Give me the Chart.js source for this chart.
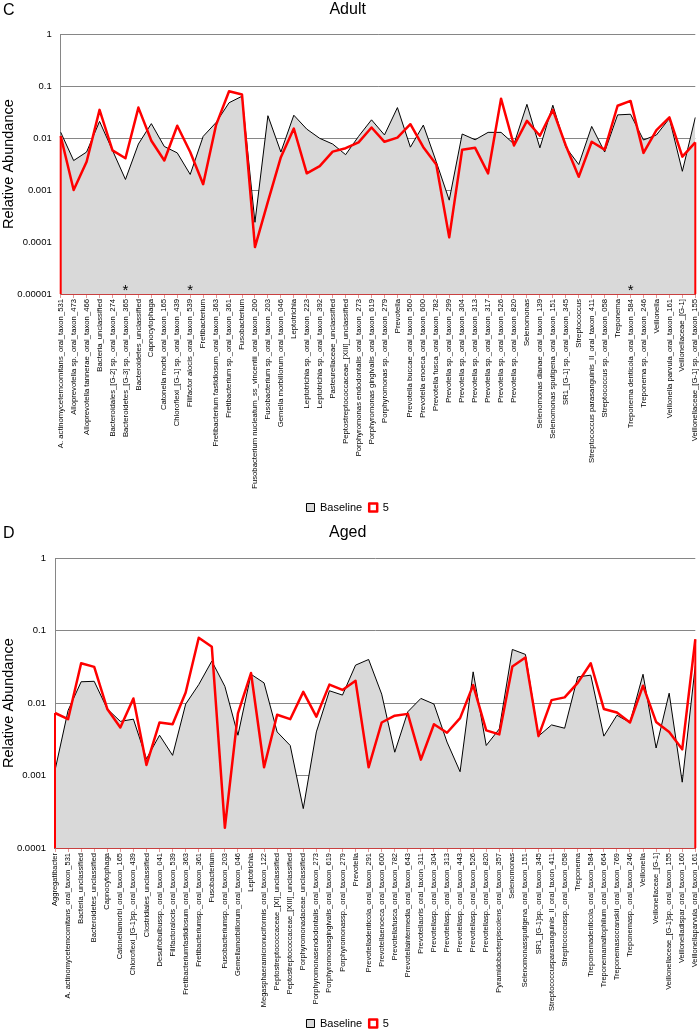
<!DOCTYPE html>
<html>
<head>
<meta charset="utf-8">
<script src="https://cdn.jsdelivr.net/npm/chart.js@4.4.0/dist/chart.umd.min.js"></script>
<style>
  html, body { margin: 0; padding: 0; background: #fff; }
  .panel { position: relative; width: 700px; overflow: hidden; }
  .panel canvas { display: block; }
  .tag { position: absolute; left: 3px; font: 16px 'Liberation Sans', Arial, sans-serif; color: #000; }
</style>
</head>
<body>
<div class="panel" style="height:518px">
  <div class="tag" style="top:1px">C</div>
  <canvas id="adultChart" width="700" height="518"></canvas>
</div>
<div class="panel" style="height:516px">
  <div class="tag" style="top:6px">D</div>
  <canvas id="agedChart" width="700" height="516"></canvas>
</div>
<script>
// Panel C - Adult
const adultTaxa = [
  'A. actinomycetemcomitans_oral_taxon_531', 'Alloprevotella sp._oral_taxon_473', 'Alloprevotella tannerae_oral_taxon_466',
  'Bacteria_unclassified', 'Bacteroidales_[G-2] sp._oral_taxon_274', 'Bacteroidetes_[G-3] sp._oral_taxon_365',
  'Bacteroidetes_unclassified', 'Capnocytophaga', 'Catonella morbi_oral_taxon_165', 'Chloroflexi_[G-1] sp._oral_taxon_439',
  'Filifactor alocis_oral_taxon_539', 'Fretibacterium', 'Fretibacterium fastidiosum_oral_taxon_363',
  'Fretibacterium sp._oral_taxon_361', 'Fusobacterium', 'Fusobacterium nucleatum_ss_vincentii_oral_taxon_200',
  'Fusobacterium sp._oral_taxon_203', 'Gemella morbillorum_oral_taxon_046', 'Leptotrichia',
  'Leptotrichia sp._oral_taxon_223', 'Leptotrichia sp._oral_taxon_392', 'Pasteurellaceae_unclassified',
  'Peptostreptococcaceae_[XIII]_unclassified', 'Porphyromonas endodontalis_oral_taxon_273',
  'Porphyromonas gingivalis_oral_taxon_619', 'Porphyromonas sp._oral_taxon_279', 'Prevotella',
  'Prevotella buccae_oral_taxon_560', 'Prevotella enoeca_oral_taxon_600', 'Prevotella fusca_oral_taxon_782',
  'Prevotella sp._oral_taxon_299', 'Prevotella sp._oral_taxon_304', 'Prevotella sp._oral_taxon_313',
  'Prevotella sp._oral_taxon_317', 'Prevotella sp._oral_taxon_526', 'Prevotella sp._oral_taxon_820', 'Selenomonas',
  'Selenomonas dianae_oral_taxon_139', 'Selenomonas sputigena_oral_taxon_151', 'SR1_[G-1] sp._oral_taxon_345',
  'Streptococcus', 'Streptococcus parasanguinis_II_oral_taxon_411', 'Streptococcus sp._oral_taxon_058', 'Treponema',
  'Treponema denticola_oral_taxon_584', 'Treponema sp._oral_taxon_246', 'Veillonella',
  'Veillonella parvula_oral_taxon_161', 'Veillonellaceae_[G-1]', 'Veillonellaceae_[G-1] sp._oral_taxon_155'
];
const adultBaseline = [0.013, 0.0037, 0.0054, 0.021, 0.0058, 0.0016, 0.0077, 0.019, 0.0069, 0.0052,
  0.002, 0.0108, 0.02, 0.048, 0.064, 0.00024, 0.027, 0.0054, 0.0276, 0.0149,
  0.0099, 0.0077, 0.0048, 0.0108, 0.0225, 0.0115, 0.0387, 0.0067, 0.0178, 0.0035,
  0.00064, 0.012, 0.0093, 0.0129, 0.0129, 0.0077, 0.0447, 0.0065, 0.043, 0.0067,
  0.0031, 0.0168, 0.0054, 0.028, 0.0288, 0.0092, 0.0115, 0.0239, 0.0023, 0.025];
const adultWeek5 = [0.011, 0.001, 0.0035, 0.035, 0.0058, 0.0041, 0.0387, 0.0089, 0.0037, 0.0173,
  0.0054, 0.0013, 0.018, 0.08, 0.069, 0.00008, 0.0006, 0.0043, 0.0153, 0.0021,
  0.0029, 0.0055, 0.0064, 0.0083, 0.016, 0.0085, 0.0102, 0.0185, 0.0067, 0.0031,
  0.000123, 0.006, 0.0065, 0.0021, 0.0575, 0.0072, 0.0215, 0.0111, 0.035, 0.0072,
  0.0018, 0.0085, 0.006, 0.042, 0.052, 0.0052, 0.0143, 0.025, 0.0044, 0.0083];
const adultStars = [5, 10, 44]; // category indexes marked with *
const adultTicks = [1, 0.1, 0.01, 0.001, 0.0001, 0.00001];
const adultTickLabels = ['1', '0.1', '0.01', '0.001', '0.0001', '0.00001'];

// Panel D - Aged
const agedTaxa = [
  'Aggregatibacter', 'A. actinomycetemcomitans_oral_taxon_531', 'Bacteria_unclassified', 'Bacteroidetes_unclassified',
  'Capnocytophaga', 'Catonellamorbi_oral_taxon_165', 'Chloroflexi_[G-1]sp._oral_taxon_439', 'Clostridiales_unclassified',
  'Desulfobulbussp._oral_taxon_041', 'Filifactoralocis_oral_taxon_539', 'Fretibacteriumfastidiosum_oral_taxon_363',
  'Fretibacteriumsp._oral_taxon_361', 'Fusobacterium', 'Fusobacteriumsp._oral_taxon_203',
  'Gemellamorbillorum_oral_taxon_046', 'Leptotrichia', 'Megasphaeramicronuciformis_oral_taxon_122',
  'Peptostreptococcaceae_[XI]_unclassified', 'Peptostreptococcaceae_[XIII]_unclassified',
  'Porphyromonadaceae_unclassified', 'Porphyromonasendodontalis_oral_taxon_273', 'Porphyromonasgingivalis_oral_taxon_619',
  'Porphyromonassp._oral_taxon_279', 'Prevotella', 'Prevotelladenticola_oral_taxon_291', 'Prevotellaenoeca_oral_taxon_600',
  'Prevotellafusca_oral_taxon_782', 'Prevotellaintermedia_oral_taxon_643', 'Prevotellaoris_oral_taxon_311',
  'Prevotellasp._oral_taxon_304', 'Prevotellasp._oral_taxon_313', 'Prevotellasp._oral_taxon_443',
  'Prevotellasp._oral_taxon_526', 'Prevotellasp._oral_taxon_820', 'Pyramidobacterpiscolens_oral_taxon_357',
  'Selenomonas', 'Selenomonassputigena_oral_taxon_151', 'SR1_[G-1]sp._oral_taxon_345',
  'Streptococcusparasanguinis_II_oral_taxon_411', 'Streptococcussp._oral_taxon_058', 'Treponema',
  'Treponemadenticola_oral_taxon_584', 'Treponemamaltophilum_oral_taxon_664', 'Treponemasocranskii_oral_taxon_769',
  'Treponemasp._oral_taxon_246', 'Veillonella', 'Veillonellaceae_[G-1]', 'Veillonellaceae_[G-1]sp._oral_taxon_155',
  'Veillonelladispar_oral_taxon_160', 'Veillonellaparvula_oral_taxon_161'
];
const agedBaseline = [0.00118, 0.0079, 0.0197, 0.02, 0.0083, 0.0056, 0.006, 0.0017, 0.0036, 0.0019,
  0.0097, 0.018, 0.038, 0.017, 0.0036, 0.025, 0.019, 0.004, 0.0026, 0.00035,
  0.004, 0.0148, 0.0129, 0.0334, 0.04, 0.0133, 0.0021, 0.0076, 0.0116, 0.0097,
  0.0029, 0.00113, 0.027, 0.0026, 0.0044, 0.055, 0.047, 0.0035, 0.005, 0.0045,
  0.023, 0.0243, 0.0035, 0.0068, 0.0054, 0.025, 0.0024, 0.0137, 0.00081, 0.033];
const agedWeek5 = [0.0073, 0.006, 0.0355, 0.0316, 0.0083, 0.0046, 0.0116, 0.0014, 0.0054, 0.0051,
  0.014, 0.08, 0.06, 0.00019, 0.0072, 0.026, 0.0013, 0.0069, 0.006, 0.0143,
  0.0065, 0.018, 0.0152, 0.0203, 0.0013, 0.0054, 0.0067, 0.0071, 0.00166, 0.0051,
  0.0039, 0.0062, 0.0177, 0.0042, 0.0037, 0.032, 0.0426, 0.0035, 0.011, 0.012,
  0.019, 0.0355, 0.0083, 0.0074, 0.0054, 0.0174, 0.0055, 0.004, 0.0023, 0.076];
const agedStars = [];
const agedTicks = [1, 0.1, 0.01, 0.001, 0.0001];
const agedTickLabels = ['1', '0.1', '0.01', '0.001', '0.0001'];

Chart.defaults.font.family = "'Liberation Sans', Arial, sans-serif";
Chart.defaults.color = '#000';

// red area border goes down to the axis at both ends (Excel style), plus the * markers
const edgesPlugin = {
  id: 'edges',
  afterDatasetsDraw(chart, args, opts) {
    const { ctx, scales: { x, y } } = chart;
    const vals = chart.data.datasets[1].data;
    const last = vals.length - 1;
    ctx.save();
    ctx.strokeStyle = '#ff0000';
    ctx.lineWidth = 2;
    [0, last].forEach(i => {
      const px = x.getPixelForValue(i);
      ctx.beginPath();
      ctx.moveTo(px, y.getPixelForValue(vals[i]));
      ctx.lineTo(px, y.bottom);
      ctx.stroke();
    });
    ctx.fillStyle = '#000';
    ctx.font = "15px 'Liberation Sans', Arial, sans-serif";
    ctx.textAlign = 'center';
    ctx.textBaseline = 'alphabetic';
    (opts.stars || []).forEach(i => ctx.fillText('*', x.getPixelForValue(i), y.bottom + 1));
    ctx.restore();
  }
};

function makePanel(id, title, taxa, base, week5, ticks, tickLabels, stars, lay) {
  return new Chart(document.getElementById(id), {
    type: 'line',
    data: {
      labels: taxa,
      datasets: [{
        label: 'Baseline',
        data: base,
        borderColor: '#000',
        borderWidth: 1,
        backgroundColor: '#d9d9d9',
        fill: 'start',
        pointRadius: 0,
        tension: 0,
        order: 2
      }, {
        label: '5',
        data: week5,
        borderColor: '#ff0000',
        borderWidth: 2.5,
        backgroundColor: '#fff',
        fill: false,
        pointRadius: 0,
        tension: 0,
        borderJoinStyle: 'round',
        order: 1
      }]
    },
    options: {
      responsive: false,
      animation: false,
      layout: { padding: { right: 4.7, bottom: -5 } },
      plugins: {
        title: {
          display: true, text: title, color: '#000',
          font: { size: 16, weight: 'normal' },
          padding: { top: lay.titleTop, bottom: lay.titleBottom }
        },
        legend: {
          position: 'bottom',
          labels: {
            boxWidth: 8, boxHeight: 8, padding: 7, color: '#000',
            font: { size: 11 },
            sort: (a, b) => a.datasetIndex - b.datasetIndex
          }
        },
        tooltip: { enabled: false },
        edges: { stars: stars }
      },
      scales: {
        x: {
          offset: false,
          grid: { drawOnChartArea: false, drawTicks: true, tickLength: 4, color: '#e09a9a' },
          border: { color: '#c84040', width: 2 },
          ticks: { autoSkip: false, minRotation: 90, maxRotation: 90, padding: 1, font: { size: lay.labelSize }, color: '#000' },
          afterFit: s => { s.height = lay.axisHeight; s.paddingLeft = 0; s.paddingRight = 0; }
        },
        y: {
          type: 'logarithmic',
          min: ticks[ticks.length - 1],
          max: 1,
          grid: { color: '#868686', drawTicks: false },
          border: { color: '#868686' },
          ticks: {
            padding: 9, font: { size: 9.5 }, color: '#000',
            callback: v => tickLabels[ticks.indexOf(v)]
          },
          afterBuildTicks: s => { s.ticks = ticks.map(v => ({ value: v })); },
          afterFit: s => { s.width = lay.left; },
          title: { display: true, text: 'Relative Abundance', font: { size: 14.5 }, padding: 0, color: '#000' }
        }
      }
    },
    plugins: [edgesPlugin]
  });
}

makePanel('adultChart', 'Adult', adultTaxa, adultBaseline, adultWeek5, adultTicks, adultTickLabels, adultStars,
  { titleTop: 0, titleBottom: 15, axisHeight: 201, left: 60.7, labelSize: 7.7 });
makePanel('agedChart', 'Aged', agedTaxa, agedBaseline, agedWeek5, agedTicks, agedTickLabels, agedStars,
  { titleTop: 5, titleBottom: 16, axisHeight: 163, left: 55, labelSize: 7.5 });
</script>
</body>
</html>
